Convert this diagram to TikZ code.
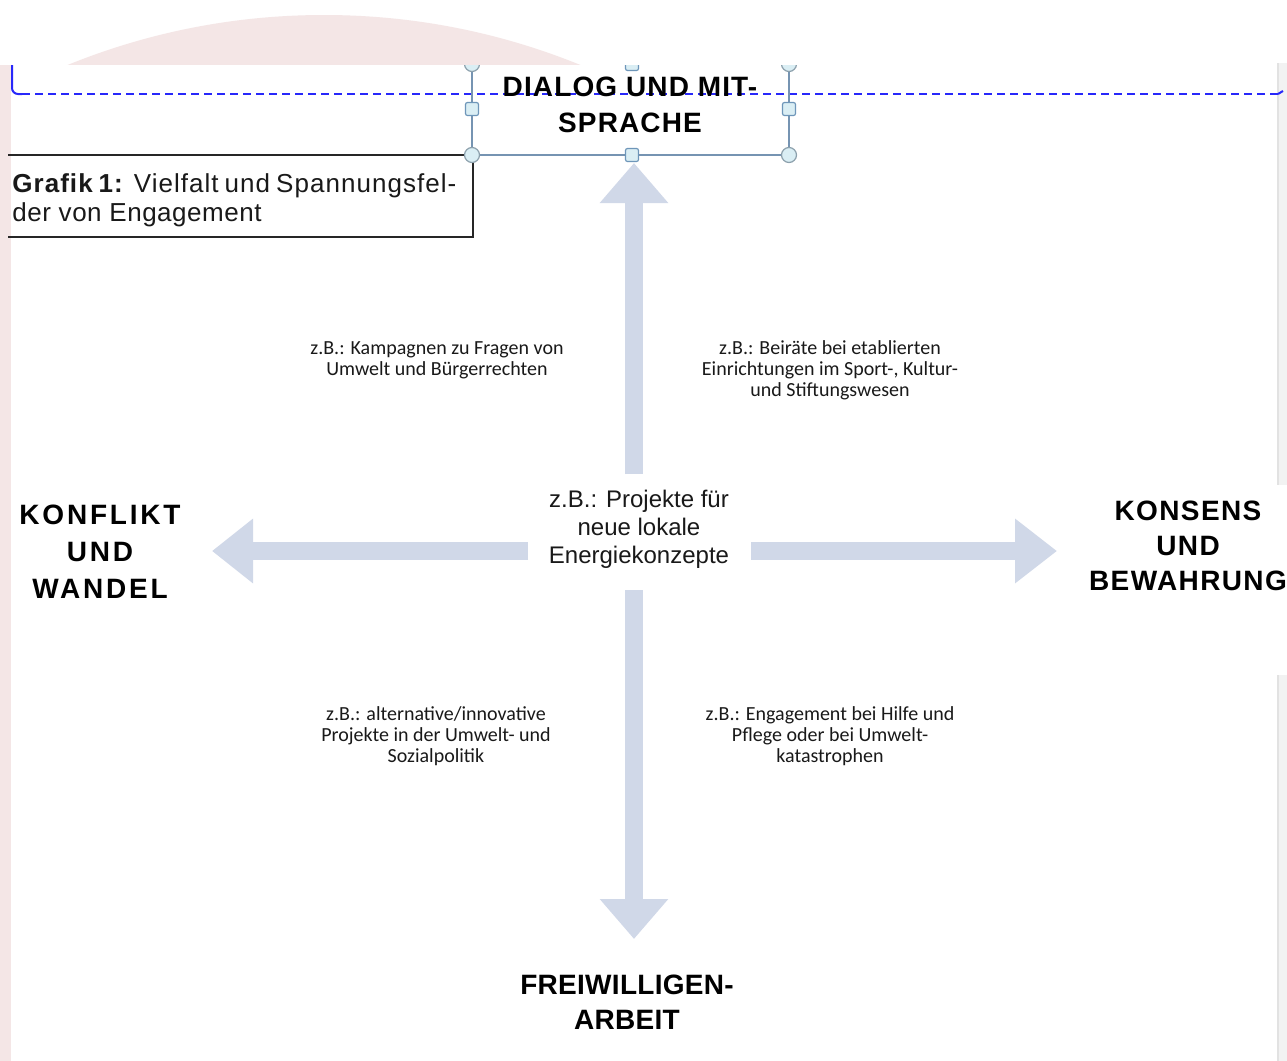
\documentclass[tikz,border=0pt]{standalone}
\usepackage{fontspec}
\setmainfont{Liberation Sans}
\newfontfamily\smallfont{Carlito}
\usetikzlibrary{arrows.meta}
\definecolor{pinkbg}{RGB}{244,230,230}
\definecolor{arrowc}{RGB}{208,216,232}
\definecolor{selblue}{RGB}{40,40,250}
\definecolor{framec}{RGB}{118,148,178}
\definecolor{handlefill}{RGB}{218,238,244}
\definecolor{handledraw}{RGB}{140,160,172}
\definecolor{sqdraw}{RGB}{110,150,185}
\definecolor{barc}{RGB}{242,242,242}
\definecolor{barline}{RGB}{226,226,226}
\definecolor{textc}{RGB}{25,25,25}
\definecolor{smalltc}{RGB}{25,25,25}
\begin{document}
\begin{tikzpicture}[x=0.5pt,y=-0.5pt,
  bigarrow/.style={draw=arrowc, line width=9pt, -{Triangle[length=20pt,width=33pt]}},
  lbl/.style={align=center, inner sep=0pt, text=black},
  smalltxt/.style={font=\smallfont\fontsize{10}{10.5}\selectfont, align=center, inner sep=0pt, text=smalltc},
  handleC/.style={fill=handlefill, draw=handledraw, line width=0.6pt},
  handleS/.style={fill=handlefill, draw=sqdraw, line width=0.6pt, rounded corners=1pt},
  framepath/.style={framec, line width=0.8pt},
]
\useasboundingbox (0,0) rectangle (1287,1061);
\clip (0,0) rectangle (1287,1061);
% background
\fill[white] (0,0) rectangle (1287,1061);
\fill[pinkbg] (324,695) circle[radius=680];
\fill[pinkbg] (0,65) rectangle (11,1061);
\fill[white] (11,65) rectangle (1287,1061);
\fill[barc] (1277,63) rectangle (1287,485);
\fill[barc] (1277,675) rectangle (1287,1061);
\draw[barline, line width=1pt] (1278,63) -- (1278,485) (1278,675) -- (1278,1061);

% blue dashed margin line
\draw[selblue, line width=1pt, rounded corners=3pt] (12,65) -- (12,94) -- (22,94);
\draw[selblue, line width=1pt, dash pattern=on 4pt off 2.5pt] (22,94) -- (1279,94);
\draw[selblue, line width=1pt] (1278,94) -- (1283,91);

% arrows
\coordinate (cUp0) at (634,474); \coordinate (cUp1) at (634,163);
\coordinate (cDn0) at (634,590); \coordinate (cDn1) at (634,939);
\coordinate (cLf0) at (528,551); \coordinate (cLf1) at (212,551);
\coordinate (cRt0) at (751,551); \coordinate (cRt1) at (1057,551);
\draw[bigarrow] (cUp0) -- (cUp1);
\draw[bigarrow] (cDn0) -- (cDn1);
\draw[bigarrow, -{Triangle[length=20.5pt,width=31pt]}] (cLf0) -- (cLf1);
\draw[bigarrow, -{Triangle[length=21pt,width=31pt]}] (cRt0) -- (cRt1);

% caption box
\draw[black!85, line width=1pt] (8,155) -- (473,155) -- (473,237) -- (8,237);
\node[anchor=west, inner sep=0pt, align=left, font=\fontsize{13}{14.5}\selectfont\addfontfeatures{LetterSpace=2}, text=textc] (cap) at (12,200)
  {\makebox[222pt][s]{\addfontfeatures{LetterSpace=4}\textbf{Grafik 1:} Vielfalt und Spannungsfel-}\\der von Engagement};

% selected text box frame with handles
\begin{scope}
\clip (0,65) rectangle (1287,1061);
\draw[framepath] (472,60) -- (472,155) -- (789,155) -- (789,60);
\foreach \p in {(472,155),(789,155),(472,64),(789,64)} \draw[handleC] \p circle[radius=7.5];
\foreach \p in {(472,109),(789,109),(632,155),(632,64)} \draw[handleS] \p ++(-6.5,-6.5) rectangle ++(13,13);
\end{scope}

% main labels
\node[lbl, font=\fontsize{14}{18}\selectfont\bfseries\addfontfeatures{LetterSpace=4}] (top) at (630,105) {DIALOG UND MIT-\\SPRACHE};
\node[lbl, font=\fontsize{14}{18.5}\selectfont\bfseries\addfontfeatures{LetterSpace=10}] (left) at (100,552) {KONFLIKT\\UND\\WANDEL};
\node[lbl, font=\fontsize{14}{17.5}\selectfont\bfseries\addfontfeatures{LetterSpace=5}] (right) at (1188,546) {KONSENS\\UND\\BEWAHRUNG};
\node[lbl, font=\fontsize{14}{17.5}\selectfont\bfseries\addfontfeatures{LetterSpace=1}] (bottom) at (627,1002.5) {FREIWILLIGEN-\\ARBEIT};

% centre text
\node[align=center, inner sep=0pt, text=textc, font=\fontsize{12}{14}\selectfont] (ctr) at (639,528.8)
  {z.B.: Projekte für\\neue lokale\\Energiekonzepte};

% small example texts
\node[smalltxt] (tl) at (437,360) {z.B.: Kampagnen zu Fragen von\\Umwelt und Bürgerrechten};
\node[smalltxt] (tr) at (830,370.5) {z.B.: Beiräte bei etablierten\\Einrichtungen im Sport-, Kultur-\\und Stiftungswesen};
\node[smalltxt] (bl) at (436,736.5) {z.B.: alternative/innovative\\Projekte in der Umwelt- und\\Sozialpolitik};
\node[smalltxt] (br) at (830,736.5) {z.B.: Engagement bei Hilfe und\\Pflege oder bei Umwelt-\\katastrophen};
\end{tikzpicture}
\end{document}
